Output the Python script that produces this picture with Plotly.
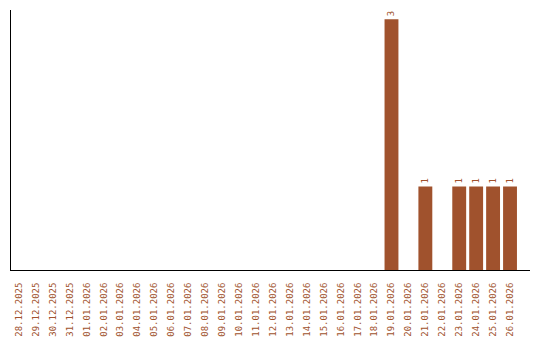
import plotly.graph_objects as go

dates = ["28.12.2025", "29.12.2025", "30.12.2025", "31.12.2025",
         "01.01.2026", "02.01.2026", "03.01.2026", "04.01.2026", "05.01.2026",
         "06.01.2026", "07.01.2026", "08.01.2026", "09.01.2026", "10.01.2026",
         "11.01.2026", "12.01.2026", "13.01.2026", "14.01.2026", "15.01.2026",
         "16.01.2026", "17.01.2026", "18.01.2026", "19.01.2026", "20.01.2026",
         "21.01.2026", "22.01.2026", "23.01.2026", "24.01.2026", "25.01.2026",
         "26.01.2026"]
counts = [0, 0, 0, 0, 0, 0, 0, 0, 0, 0, 0, 0, 0, 0, 0, 0, 0, 0, 0, 0, 0, 0,
          3, 0, 1, 0, 1, 1, 1, 1]

color = "#A0522D"
labels = [str(v) if v else "" for v in counts]

fig = go.Figure(go.Bar(
    x=dates, y=counts, marker=dict(color=color, line=dict(width=0)),
    text=labels, textposition="outside", textangle=-90,
    textfont=dict(family="DejaVu Sans Mono", size=9, color=color),
    cliponaxis=False,
))

fig.update_layout(
    width=540, height=340,
    margin=dict(l=11, r=10, t=10, b=70, autoexpand=False),
    paper_bgcolor="white", plot_bgcolor="white",
    bargap=0.18, showlegend=False,
    xaxis=dict(
        type="category", range=[-0.47, 30.18], automargin=False,
        showline=True, linecolor="black", linewidth=1,
        showgrid=False, zeroline=False,
        ticks="outside", ticklen=8, tickcolor="rgba(0,0,0,0)",
        tickangle=-90,
        tickfont=dict(family="DejaVu Sans Mono", size=9, color=color),
    ),
    yaxis=dict(
        range=[0, 3.11], automargin=False,
        showline=True, linecolor="black", linewidth=1,
        showgrid=False, zeroline=False, showticklabels=False, ticks="",
    ),
)

fig.write_html("out.html")
